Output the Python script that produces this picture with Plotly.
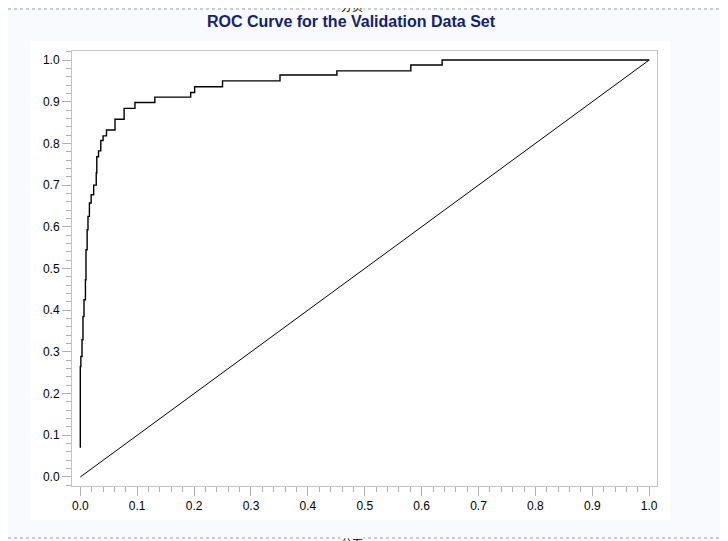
import plotly.graph_objects as go

# ROC curve vertices (false positive rate, true positive rate), step curve
fpr = [0.0, 0.0, 0.001, 0.003, 0.0047, 0.0065, 0.009, 0.010, 0.012, 0.0135, 0.016,
       0.019, 0.0235, 0.028, 0.029, 0.032, 0.036, 0.040, 0.046, 0.061, 0.077,
       0.096, 0.131, 0.194, 0.201, 0.250, 0.351, 0.451, 0.581, 0.636, 1.0]
tpr = [0.07, 0.265, 0.289, 0.329, 0.385, 0.425, 0.473, 0.545, 0.593, 0.625, 0.657,
       0.677, 0.700, 0.729, 0.768, 0.782, 0.807, 0.818, 0.832, 0.858, 0.884,
       0.898, 0.911, 0.922, 0.936, 0.950, 0.964, 0.974, 0.988, 1.0, 1.0]
diag_x = [0.0, 1.0]
diag_y = [0.0, 1.0]
tick_vals = [0.0, 0.1, 0.2, 0.3, 0.4, 0.5, 0.6, 0.7, 0.8, 0.9, 1.0]
tick_text = ["0.0", "0.1", "0.2", "0.3", "0.4", "0.5", "0.6", "0.7", "0.8", "0.9", "1.0"]

OFF = 8  # page body margin
W, H = 728 - OFF, 541 - OFF
L, R, T, B = 72 - OFF, 657 - OFF, 51 - OFF, 486 - OFF  # plot area in figure pixels


def px(x):
    x = x - OFF
    return (x - L) / (R - L)


def py(y):
    y = y - OFF
    return (B - y) / (B - T)


PAGE = "#f9fafe"

fig = go.Figure()
fig.add_trace(go.Scatter(x=fpr, y=tpr, mode="lines", line=dict(color="black", width=1.4, shape="hv"),
                         showlegend=False, hoverinfo="skip"))
fig.add_trace(go.Scatter(x=diag_x, y=diag_y, mode="lines", line=dict(color="black", width=1),
                         showlegend=False, hoverinfo="skip"))

axis_common = dict(
    showline=True, linecolor="#c4c4c4", linewidth=1, mirror=True,
    showgrid=False, zeroline=False,
    ticks="outside", ticklen=9, tickcolor="#b0b0b0", tickwidth=1,
    tickvals=tick_vals, ticktext=tick_text,
    tickfont=dict(family="Liberation Sans, Arial", size=12, color="black"),
    minor=dict(ticks="outside", ticklen=5, tickcolor="#b0b0b0", dtick=0.02, tick0=0, showgrid=False),
)

fig.update_layout(
    width=W, height=H,
    margin=dict(l=L, r=W - R, t=T, b=H - B),
    paper_bgcolor=PAGE, plot_bgcolor="white",
    title=dict(text="<b>ROC Curve for the Validation Data Set</b>", x=(351 - OFF) / W, xanchor="center",
               y=1 - (21 - OFF) / H, yanchor="middle", yref="container",
               font=dict(family="Liberation Sans, Arial", size=16, color="#112277")),
    xaxis=dict(range=[-0.0146, 1.0137], **axis_common),
    yaxis=dict(range=[-0.0216, 1.0216], **axis_common),
)

# white panel behind the graph
fig.add_shape(type="rect", xref="paper", yref="paper", x0=px(30), x1=px(670), y0=py(520), y1=py(41),
              fillcolor="white", line=dict(width=0), layer="below")

# page break dotted lines
for yline in (OFF + 1, 538):
    fig.add_shape(type="line", xref="paper", yref="paper", x0=px(OFF), x1=px(728), y0=py(yline), y1=py(yline),
                  line=dict(color="#a0a0a0", width=1, dash="dot"))

for ytext in (OFF - 2, 543):
    fig.add_annotation(text="分页", xref="paper", yref="paper", x=px(352), y=py(ytext),
                       xanchor="center", yanchor="middle", showarrow=False, bgcolor=PAGE, borderpad=0,
                       font=dict(family="Noto Sans CJK SC", size=11, color="black"))

fig.write_html("out.html")
